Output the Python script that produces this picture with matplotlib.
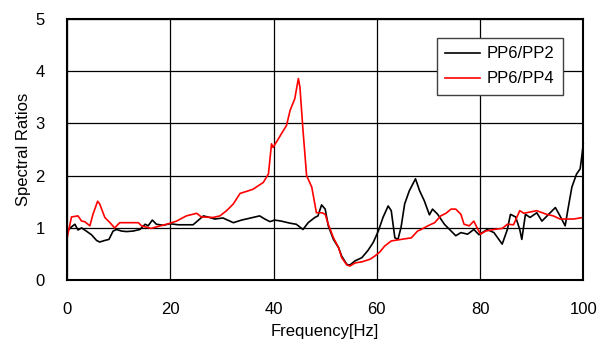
import matplotlib
matplotlib.use("Agg")
import matplotlib.pyplot as plt

plt.rcParams['font.family'] = ['Liberation Sans', 'DejaVu Sans']

freq_pp2 = [0, 0.84, 1.5, 2.1, 2.8, 3.7, 4.7, 5.7, 6.3, 7.3, 8.1, 8.9, 9.6, 10.5, 11.5, 12.8,
            14.1, 15.1, 15.7, 16.5, 17.3, 18.6, 19.9, 21.5, 24.4, 26.4, 27.6, 28.6, 30.2, 32.2,
            33.8, 36.0, 37.3, 38.3, 39.3, 40.2, 41.5, 43.2, 44.4, 45.7, 46.7, 48.0, 48.6, 49.3,
            50.0, 50.6, 51.6, 52.6, 53.2, 54.2, 54.8, 55.8, 57.1, 58.3, 59.3, 60.3, 61.2, 62.2,
            62.8, 63.5, 64.1, 64.7, 65.4, 66.3, 67.5, 68.3, 69.2, 70.2, 70.8, 71.8, 73.1, 74.4,
            75.3, 76.3, 77.6, 78.8, 79.8, 81.4, 82.7, 84.3, 85.3, 85.9, 86.9, 87.7, 88.1, 88.8,
            89.7, 91.0, 92.0, 93.3, 94.6, 95.5, 96.5, 97.1, 97.8, 98.7, 99.4, 99.7, 100.0]
ratio_pp2 = [0.94, 1.02, 1.07, 0.96, 1.0, 0.94, 0.87, 0.76, 0.73, 0.76, 0.78, 0.94, 0.97, 0.94,
             0.93, 0.94, 0.97, 1.07, 1.04, 1.15, 1.07, 1.05, 1.08, 1.06, 1.06, 1.23, 1.2, 1.17,
             1.19, 1.1, 1.15, 1.2, 1.23, 1.17, 1.12, 1.15, 1.13, 1.09, 1.07, 0.97, 1.1, 1.2, 1.23,
             1.44, 1.36, 1.04, 0.78, 0.62, 0.46, 0.3, 0.29, 0.37, 0.43, 0.57, 0.72, 0.94, 1.2,
             1.42, 1.33, 0.81, 0.78, 1.01, 1.46, 1.71, 1.94, 1.71, 1.52, 1.25, 1.36, 1.26, 1.07,
             0.94, 0.85, 0.91, 0.88, 0.97, 0.87, 0.97, 0.91, 0.69, 0.97, 1.26, 1.21, 0.97, 0.78,
             1.26, 1.2, 1.29, 1.13, 1.26, 1.39, 1.23, 1.04, 1.39, 1.78, 2.03, 2.13, 2.35, 2.61]

freq_pp4 = [0, 0.84, 2.1, 2.8, 3.4, 4.4, 5.0, 5.9, 6.3, 7.3, 8.3, 9.2, 10.2, 11.5, 13.8, 14.4,
            16.3, 17.3, 19.3, 21.2, 23.1, 25.1, 26.0, 28.3, 29.6, 30.9, 32.2, 33.5, 35.1, 36.0,
            38.0, 39.0, 39.6, 39.9, 40.9, 41.5, 42.5, 43.2, 44.1, 44.8, 45.1, 45.7, 46.4, 47.4,
            48.3, 49.4, 50.0, 50.6, 51.6, 52.6, 53.2, 54.2, 54.8, 55.8, 57.1, 58.7, 59.6, 60.6,
            61.5, 62.8, 64.7, 66.7, 67.9, 68.6, 69.9, 71.2, 72.4, 73.4, 74.4, 75.3, 76.3, 76.9,
            77.9, 78.8, 79.5, 80.1, 81.1, 82.7, 84.3, 85.3, 86.5, 87.7, 88.5, 91.0, 92.9, 94.2,
            95.5, 96.8, 98.1, 100.0]
ratio_pp4 = [0.81, 1.21, 1.23, 1.13, 1.12, 1.04, 1.26, 1.51, 1.46, 1.2, 1.1, 1.0, 1.1, 1.1, 1.1,
             1.04, 0.99, 1.02, 1.07, 1.13, 1.23, 1.28, 1.21, 1.2, 1.23, 1.33, 1.46, 1.66, 1.71,
             1.74, 1.87, 2.03, 2.61, 2.54, 2.7, 2.8, 2.96, 3.25, 3.47, 3.86, 3.7, 2.87, 2.0, 1.78,
             1.29, 1.29, 1.26, 1.07, 0.81, 0.62, 0.43, 0.29, 0.27, 0.33, 0.35, 0.40, 0.46, 0.54,
             0.65, 0.75, 0.78, 0.81, 0.94, 0.97, 1.04, 1.1, 1.23, 1.28, 1.36, 1.36, 1.26, 1.07,
             1.04, 1.13, 0.99, 0.88, 0.94, 0.97, 0.99, 1.07, 1.06, 1.33, 1.28, 1.33, 1.26, 1.23,
             1.17, 1.17, 1.17, 1.2]

fig = plt.figure(figsize=(6.05, 3.45), dpi=100)
ax = fig.add_axes([0.111, 0.188, 0.853, 0.757])

ax.plot(freq_pp2, ratio_pp2, color='black', lw=1.2, label='PP6/PP2', clip_on=False)
ax.plot(freq_pp4, ratio_pp4, color='#ff0000', lw=1.2, label='PP6/PP4')

ax.set_xlim(0, 100)
ax.set_ylim(0, 5)
ax.set_xticks([0, 20, 40, 60, 80, 100])
ax.set_yticks([0, 1, 2, 3, 4, 5])
ax.grid(True, color='black', lw=0.9)
ax.set_axisbelow(True)
for s in ax.spines.values():
    s.set_linewidth(1.5)
ax.tick_params(length=0, labelsize=12)
ax.tick_params(axis='x', pad=16)
ax.tick_params(axis='y', pad=16)
ax.set_xlabel('Frequency[Hz]', fontsize=12, labelpad=5)
ax.set_ylabel('Spectral Ratios', fontsize=12, labelpad=3)

leg = ax.legend(loc='upper right', bbox_to_anchor=(0.961, 0.927), borderaxespad=0,
                fontsize=12, frameon=True, fancybox=False, edgecolor='#404040',
                framealpha=1, handlelength=2.1, borderpad=0.5, labelspacing=0.6,
                handletextpad=0.4)
leg.get_frame().set_linewidth(1.0)

fig.savefig('out.png', dpi=100)
